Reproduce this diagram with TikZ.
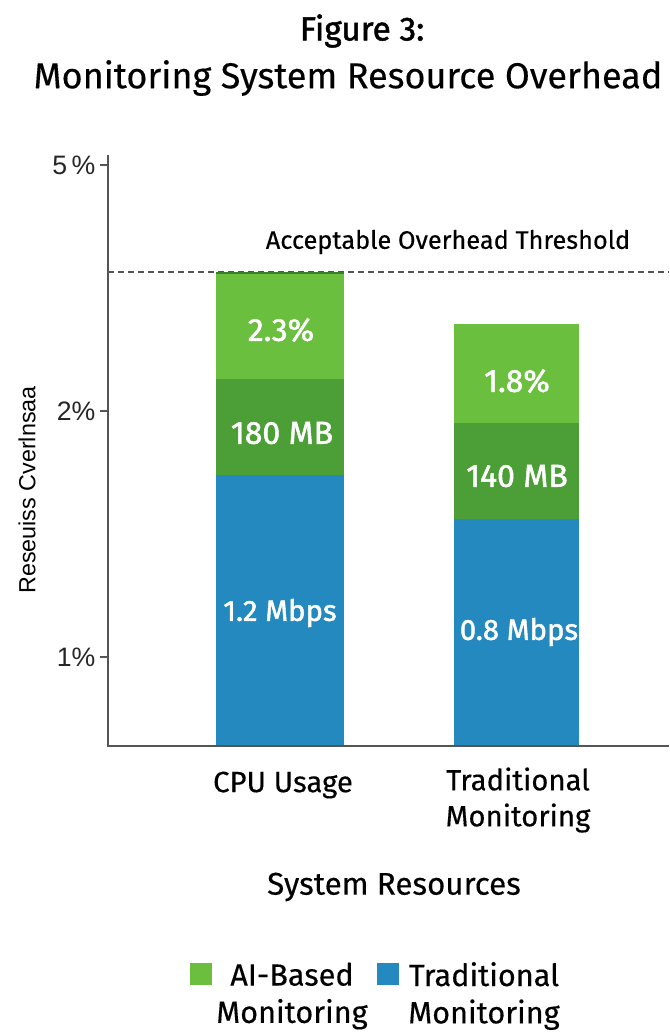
\documentclass[tikz,border=0pt]{standalone}
\usepackage{fontspec}
\setmainfont{Fira Sans}[FakeBold=0.3]
\newfontfamily\barfont{Fira Sans}[FakeBold=1.5]
\newfontfamily\arialfont{Liberation Sans}
\usetikzlibrary{positioning}
\definecolor{aigreen}{HTML}{6BBF3E}
\definecolor{memgreen}{HTML}{4B9F36}
\definecolor{tradblue}{HTML}{2389BE}
\definecolor{axisgray}{HTML}{555555}

\begin{document}
\begin{tikzpicture}[x=0.75pt,y=-0.75pt,
  ticklbl/.style={anchor=east,inner sep=1pt,font=\arialfont\fontsize{20}{24}\selectfont,text=black!85},
  barlbl/.style={text=white,font=\barfont\fontsize{24}{28}\selectfont},
  catlbl/.style={align=center,font=\fontsize{22}{27}\selectfont},
  legbox/.style={minimum size=16pt,inner sep=0pt},
  legtxt/.style={align=center,font=\fontsize{23}{28}\selectfont}]
\useasboundingbox (0,0) rectangle (669,1036);
% title
\node (fig)   at (362,31) {\barfont\fontsize{25}{29}\selectfont Figure 3:};
\node (title) at (348,78) {\fontsize{27}{31}\selectfont Monitoring System Resource Overhead};
% threshold (behind the bars)
\draw[axisgray,dash pattern=on 4.5pt off 3pt,line width=0.9pt] (108,272) -- (669,272);
\node (thr) at (448,242) {\fontsize{19}{22}\selectfont Acceptable Overhead Threshold};
% bars
\fill[tradblue] (216,475) rectangle (344,746);
\fill[memgreen] (216,379) rectangle (344,475);
\fill[aigreen]  (216,273) rectangle (344,379);
\draw[memgreen!80!black,line width=1.5pt] (216,273) -- (344,273);
\fill[tradblue] (454,519) rectangle (579,746);
\fill[memgreen] (454,423) rectangle (579,519);
\fill[aigreen]  (454,324) rectangle (579,423);
\node[barlbl] (cpuai)  at (281,330) {2.3\%};
\node[barlbl] (cpumem) at (282,433) {180 MB};
\node[barlbl] (cpunet) at (280,613) {\fontsize{22}{26}\selectfont 1.2 Mbps};
\node[barlbl] (trai)   at (517,381) {1.8\%};
\node[barlbl] (trmem)  at (517,476) {140 MB};
\node[barlbl] (trnet)  at (519,632) {\fontsize{22}{26}\selectfont 0.8 Mbps};
% axes
\draw[axisgray,line width=1.1pt] (108,155) -- (108,746) -- (669,746);
\foreach \y/\t in {165/5\,\%,411/2\%,657/1\%}{
  \draw[axisgray,line width=0.8pt] (100,\y) -- (108,\y);
  \node[ticklbl] (tick\y) at (97,\y) {\t};
}
\node[rotate=90,font=\arialfont\fontsize{17.5}{20}\selectfont] (ylbl) at (27,490) {Reseuiss Cverlnsaa};
\node[catlbl] (cpu)  at (283,785) {CPU Usage};
\node[catlbl] (trad) at (518,800) {Traditional\\Monitoring};
\node[font=\fontsize{23.5}{28}\selectfont] (xlbl) at (394,887) {System Resources};
% legend
\node[legbox,fill=aigreen]  (legai) at (201,974) {};
\node[legtxt] (legaitxt) at (292,996) {AI-Based\\Monitoring};
\node[legbox,fill=tradblue] (legtr) at (388,974) {};
\node[legtxt] (legtrtxt) at (484,996) {Traditional\\Monitoring};
\end{tikzpicture}
\end{document}
